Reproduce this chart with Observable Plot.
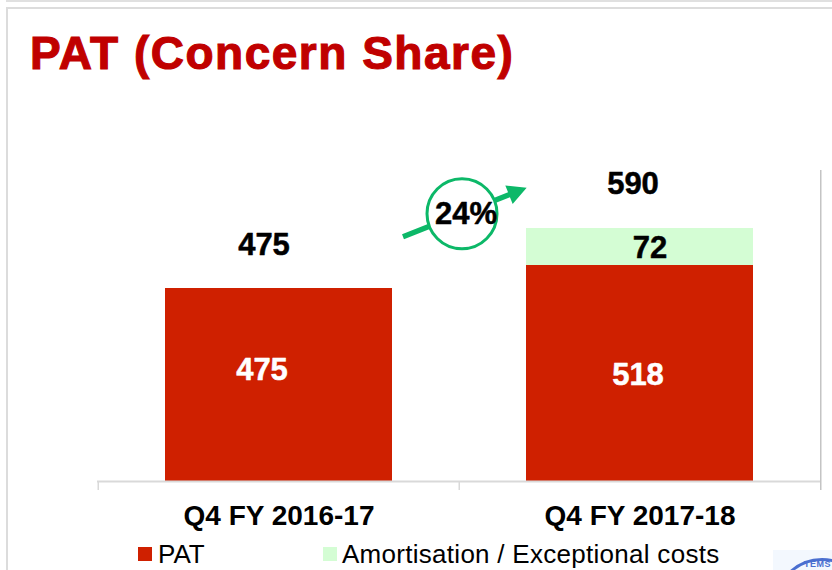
<!DOCTYPE html>
<html><head><meta charset="utf-8">
<script src="https://cdn.jsdelivr.net/npm/d3@7"></script>
<script src="https://cdn.jsdelivr.net/npm/@observablehq/plot@0.6"></script>
<style>
html,body{margin:0;padding:0;background:#fff;width:832px;height:570px;overflow:hidden;font-family:"Liberation Sans",Arial,sans-serif}
#page{position:relative;width:832px;height:570px;overflow:hidden}
#strip{position:absolute;left:6px;top:0;right:0;height:2px;background:#e0e0e0}
#frame{position:absolute;left:6px;top:7px;width:840px;height:600px;border:2px solid #dcdcdc;box-sizing:border-box}
#title{position:relative;height:100px;color:#c00000;font-weight:bold;font-size:46px;line-height:50px;padding:28px 0 0 30px;box-sizing:border-box;letter-spacing:1.5px;white-space:nowrap;-webkit-text-stroke:1.1px #c00000}
#chart{position:relative;height:445px}
#chart svg{display:block;font-family:"Liberation Sans",Arial,sans-serif}
#legend{position:absolute;left:0;top:542px;width:832px;height:28px;font-size:26px;color:#000}
#legend span{position:absolute;top:0;line-height:25px;white-space:nowrap}
#legend i{position:absolute;top:5px;width:14px;height:14px}
#seal{position:absolute;left:773px;top:550px;width:59px;height:20px;background:#f3f8fe;overflow:hidden}
#ring{position:absolute;left:1px;top:8px;width:96px;height:96px;border:3px solid #4a6fd0;border-radius:50%;box-sizing:border-box}
#ringtext{position:absolute;left:31px;top:9px;font-size:9px;line-height:10px;font-weight:bold;color:#4a6fd0;letter-spacing:.5px}
</style></head><body>
<div id="page">
<div id="strip"></div><div id="frame"></div>
<div id="title">PAT (Concern Share)</div>
<div id="chart"></div>
<div id="legend"></div>
<div id="seal"><div id="ring"></div><div id="ringtext">TEMS</div></div>
</div>
<script>
const categories = ["Q4 FY 2016-17", "Q4 FY 2017-18"];
const patValues = [475, 518];
const otherValues = [0, 72];
const totals = [475, 590];
const seriesNames = ["PAT", "Amortisation / Exceptional costs"];
const seriesColors = ["#cf2000", "#d4fdd4"];
const growthLabel = "24%";
const green = "#0cb868";

const rows = categories.flatMap((c, i) => [
  {cat: c, series: seriesNames[0], value: patValues[i], mid: patValues[i] / 2},
  {cat: c, series: seriesNames[1], value: otherValues[i], mid: patValues[i] + otherValues[i] / 2}
]).filter(d => d.value > 0);
const totalRows = categories.map((c, i) => ({cat: c, total: totals[i]}));
const axisEdge = 180.75;
const badge = [{cat: categories[0], level: 623}];
const arrowShape = {
  draw(ctx, l) {
    const w = 2.6, hw = 10, hl = 19;
    ctx.moveTo(-w, 0); ctx.lineTo(-w, -(l - hl)); ctx.lineTo(-hw, -(l - hl));
    ctx.lineTo(0, -l); ctx.lineTo(hw, -(l - hl)); ctx.lineTo(w, -(l - hl)); ctx.lineTo(w, 0);
    ctx.closePath();
  }
};
const labelDx = [-17, -2, 10];
const labelDy = [-15, -1, 1];
const heavy = c => ({fill: c, stroke: c, strokeWidth: 0.5});

const chart = Plot.plot({
  width: 832, height: 445,
  marginTop: 0, marginBottom: 0, marginLeft: 97, marginRight: 12,
  style: {background: "transparent", overflow: "visible"},
  x: {domain: categories, paddingInner: 0.372, paddingOuter: 0.186, axis: null},
  y: {type: "linear", domain: [-22, 0, 475, 518, 590, 720], range: [390, 381, 188, 165, 128, 70], axis: null},
  color: {domain: seriesNames, range: seriesColors},
  marks: [
    Plot.barY(rows, Plot.stackY({x: "cat", y: "value", z: "series", order: seriesNames, fill: "series"})),
    Plot.ruleY([0], {stroke: "#d9d9d9", strokeWidth: 2}),
    Plot.ruleX(categories, {x: d => d, dx: -axisEdge, y1: -22, y2: 0, stroke: "#d9d9d9", strokeWidth: 1.5}),
    Plot.ruleX(categories.slice(1), {x: d => d, dx: axisEdge, y1: -22, y2: 720, stroke: "#c4c4c4", strokeWidth: 1.5}),
    Plot.text(categories, {x: d => d, y: 0, dy: 35, text: d => d, fontSize: 28, fontWeight: "bold", fill: "#000"}),
    // in-bar values, nudged to where the reference sets them
    ...rows.map((r, i) => Plot.text([r], {x: "cat", y: "mid", text: d => String(d.value),
      ...heavy(r.series === seriesNames[0] ? "#fff" : "#000"), fontSize: 31, fontWeight: "bold", dx: labelDx[i], dy: labelDy[i]})),
    // totals
    Plot.text(totalRows.slice(0, 1), {x: "cat", y: "total", text: d => String(d.total), dx: -15, dy: -43, fontSize: 31, fontWeight: "bold", ...heavy("#000")}),
    Plot.text(totalRows.slice(1), {x: "cat", y: "total", text: d => String(d.total), dx: -7, dy: -44, fontSize: 31, fontWeight: "bold", ...heavy("#000")}),
    // growth arrow and badge
    Plot.vector(badge, {x: "cat", y: () => 574, dx: 124, length: 133, rotate: 68.4, anchor: "start", shape: arrowShape, fill: green, stroke: "none"}),
    Plot.dot(badge, {x: "cat", y: "level", dx: 183, r: 35, fill: "#fff", stroke: green, strokeWidth: 3}),
    Plot.text(badge, {x: "cat", y: "level", dx: 187, text: () => growthLabel, fontSize: 31, fontWeight: "bold", ...heavy("#000")})
  ]
});
document.getElementById("chart").append(chart);

const legend = document.getElementById("legend");
[[138,158],[323,342]].forEach(([a,b],i)=>{
  const sw=document.createElement("i"); sw.style.left=a+"px"; sw.style.background=seriesColors[i];
  const t=document.createElement("span"); t.style.left=b+"px"; t.textContent=seriesNames[i];
  if(i===1) t.style.letterSpacing=".28px";
  legend.append(sw,t);
});
</script>
</body></html>
